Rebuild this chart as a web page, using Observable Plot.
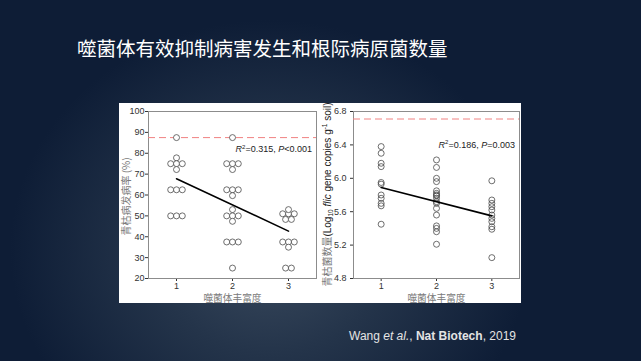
<!DOCTYPE html>
<html><head><meta charset="utf-8">
<script src="https://cdn.jsdelivr.net/npm/d3@7"></script>
<script src="https://cdn.jsdelivr.net/npm/@observablehq/plot@0.6"></script>
<style>
html,body{margin:0;padding:0;width:641px;height:361px;overflow:hidden;}
body{position:relative;background:radial-gradient(ellipse 260px 230px at 270px 250px,#3a4a5e 0%,#24344a 45%,#0e1d36 100%);font-family:"Liberation Sans",Arial,sans-serif;}
#title{position:absolute;left:77px;top:36px;font-family:"Noto Sans CJK SC",sans-serif;font-size:19.5px;line-height:24px;color:#fff;font-weight:400;white-space:nowrap;}
#panel{position:absolute;left:119px;top:103px;width:402px;height:200px;background:#fff;}
#left{position:absolute;left:0;top:0;}
#right{position:absolute;left:199px;top:0;}
#cap{position:absolute;left:349px;top:329px;font-size:12px;color:#e4e4e4;white-space:nowrap;}
svg{display:block;}
</style></head>
<body>
<div id="title">噬菌体有效抑制病害发生和根际病原菌数量</div>
<div id="panel"><div id="left"></div><div id="right"></div></div>
<div id="cap">Wang <i>et al.</i>, <b>Nat Biotech</b>, 2019</div>
<script>
// ---- data ----
const groups = [1, 2, 3];
const xTickLabels = ["1", "2", "3"];
const xTitle = "噬菌体丰富度";
// Left panel: disease incidence (%) per phage richness group
const incidence1 = [87.5, 77.8, 75, 75, 75, 72.2, 62.5, 62.5, 62.5, 50, 50, 50];
const incidence2 = [87.5, 75, 75, 75, 72.2, 62.5, 62.5, 62.5, 59.7, 53, 50, 50, 50, 47.4, 37.5, 37.5, 37.5, 25];
const incidence3 = [51, 51, 51, 53, 48.3, 48.3, 37.5, 37.5, 37.5, 35, 25, 25];
const incidenceFitY = [67.8, 42.7];
const incidenceControl = [87.5];
const incidenceTicks = [20, 30, 40, 50, 60, 70, 80, 90, 100];
const incidenceStats = {r2: "0.315", p: "<0.001"};
// Right panel: pathogen density (log10 fliC copies per g soil)
const pathogen1 = [6.38, 6.30, 6.18, 6.14, 5.95, 5.93, 5.80, 5.76, 5.70, 5.67, 5.45];
const pathogen2 = [6.22, 6.13, 6.00, 5.96, 5.85, 5.82, 5.80, 5.79, 5.76, 5.72, 5.70, 5.64, 5.56, 5.43, 5.40, 5.36, 5.21];
const pathogen3 = [5.97, 5.74, 5.70, 5.66, 5.62, 5.56, 5.52, 5.48, 5.42, 5.39, 5.05];
const pathogenFitY = [5.89, 5.55];
const pathogenControl = [6.71];
const pathogenTicks = [4.8, 5.2, 5.6, 6.0, 6.4, 6.8];
const pathogenStats = {r2: "0.186", p: "=0.003"};
const fitX = [1, 3];

// ---- build ----
const W1 = 199, W2 = 203, H = 199;
const M1 = {l: 29, r: 2, t: 8, b: 24};
const M2 = {l: 35, r: 2, t: 8, b: 24};
const ptStroke = "#4a4a4a";
const dotR = 3;

// beeswarm: equal values spread horizontally in a centred row
function swarm(lists, pxPerUnit, spacingPx) {
  const out = [];
  lists.forEach((vals, gi) => {
    const counts = d3.rollup(vals, v => v.length, v => v);
    const seen = new Map();
    vals.forEach(v => {
      const n = counts.get(v), k = seen.get(v) || 0;
      seen.set(v, k + 1);
      const off = (k - (n - 1) / 2) * spacingPx / pxPerUnit;
      out.push({g: groups[gi], x: groups[gi] + off, y: v});
    });
  });
  return out;
}
const leftPts = swarm([incidence1, incidence2, incidence3], (W1 - M1.l - M1.r) / 3, 5.8);
const rightPts = [pathogen1, pathogen2, pathogen3].flatMap((vals, gi) => vals.map(v => ({x: groups[gi], y: v})));
const leftFit = fitX.map((x, i) => ({x, y: incidenceFitY[i]}));
const rightFit = fitX.map((x, i) => ({x, y: pathogenFitY[i]}));

const baseStyle = {background: "transparent", fontFamily: "'Liberation Sans', Arial, sans-serif", fontSize: "9px", color: "#333", overflow: "visible"};
const cjk = "'Noto Sans CJK SC', sans-serif";

function common(M, W) {
  return {
    width: W, height: H, marginLeft: M.l, marginRight: M.r, marginTop: M.t, marginBottom: M.b,
    style: baseStyle,
  };
}

const xTitleOpts = {frameAnchor: "bottom", dy: 20.5, fontFamily: cjk, fontSize: 9.7, fill: "#7a7a7a", lineAnchor: "middle"};

const left = Plot.plot({
  ...common(M1, W1),
  x: {domain: [0.5, 3.5], ticks: groups, tickFormat: (d) => xTickLabels[groups.indexOf(d)], tickSize: 3, tickPadding: 1, label: null},
  y: {domain: [20, 100], ticks: incidenceTicks, tickSize: 3, tickPadding: 1, label: null},
  marks: [
    Plot.frame({stroke: "#8c8c8c"}),
    Plot.ruleY(incidenceControl, {stroke: "#f08282", strokeDasharray: "7,4", strokeWidth: 1}),
    Plot.dot(leftPts, {x: "x", y: "y", r: dotR, stroke: ptStroke, fill: "white", strokeWidth: 0.8}),
    Plot.line(leftFit, {x: "x", y: "y", stroke: "black", strokeWidth: 1.6}),
    Plot.text([xTitle], xTitleOpts),
    Plot.text(["青枯病发病率 (%)"], {frameAnchor: "left", textAnchor: "middle", dx: -21.5, dy: 1.5, rotate: -90, fontFamily: cjk, fontSize: 10, fill: "#7a7a7a", lineAnchor: "middle"})
  ]
});
document.getElementById("left").appendChild(left);

const right = Plot.plot({
  ...common(M2, W2),
  x: {domain: [0.5, 3.5], ticks: groups, tickFormat: (d) => xTickLabels[groups.indexOf(d)], tickSize: 3, tickPadding: 1, label: null},
  y: {domain: [4.8, 6.8], ticks: pathogenTicks, tickFormat: d3.format(".1f"), tickSize: 3, tickPadding: 4, label: null},
  marks: [
    Plot.frame({stroke: "#8c8c8c"}),
    Plot.ruleY(pathogenControl, {stroke: "#f08282", strokeDasharray: "7,4", strokeWidth: 1}),
    Plot.dot(rightPts, {x: "x", y: "y", r: dotR, stroke: ptStroke, fill: "white", fillOpacity: 0, strokeWidth: 0.8}),
    Plot.line(rightFit, {x: "x", y: "y", stroke: "black", strokeWidth: 1.6}),
    Plot.text([xTitle], xTitleOpts)
  ]
});
document.getElementById("right").appendChild(right);

// annotations (R², P) positioned through the plot scales
function annotate(svgEl, stats, yVal) {
  const sx = svgEl.scale("x"), sy = svgEl.scale("y");
  const t = d3.select(svgEl).append("text")
    .attr("x", sx.apply(3.5) - 4).attr("y", sy.apply(yVal))
    .attr("text-anchor", "end").attr("dy", "0.35em")
    .attr("font-family", "'Liberation Sans', Arial, sans-serif").attr("font-size", 9).attr("fill", "#222");
  t.append("tspan").attr("font-style", "italic").text("R");
  t.append("tspan").attr("font-size", 6).attr("dy", "-0.6em").text("2");
  t.append("tspan").attr("dy", "0.4em").text("=" + stats.r2 + ", ");
  t.append("tspan").attr("font-style", "italic").text("P");
  t.append("tspan").text(stats.p);
}
annotate(left, incidenceStats, 81.7);
annotate(right, pathogenStats, 6.40);

// right y-axis title with subscript / superscript
{
  const sy = right.scale("y");
  const cy = (sy.apply(4.8) + sy.apply(6.8)) / 2;
  const t = d3.select(right).append("text")
    .attr("transform", `translate(9.5,${cy}) rotate(-90)`)
    .attr("text-anchor", "middle").attr("dy", "0.35em")
    .attr("font-family", "'Liberation Sans', Arial, sans-serif").attr("font-size", 10).attr("fill", "#222");
  t.append("tspan").attr("font-family", cjk).attr("fill", "#7a7a7a").text("青枯菌数量");
  t.append("tspan").text("(Log");
  t.append("tspan").attr("font-size", 6.5).attr("dy", "0.35em").text("10");
  t.append("tspan").attr("dy", "-0.23em").text(" ");
  t.append("tspan").attr("font-style", "italic").text("flic");
  t.append("tspan").text(" gene copies g");
  t.append("tspan").attr("font-size", 6.5).attr("dy", "-0.55em").text("-1");
  t.append("tspan").attr("dy", "0.36em").text(" soil)");
}
</script>
</body></html>
